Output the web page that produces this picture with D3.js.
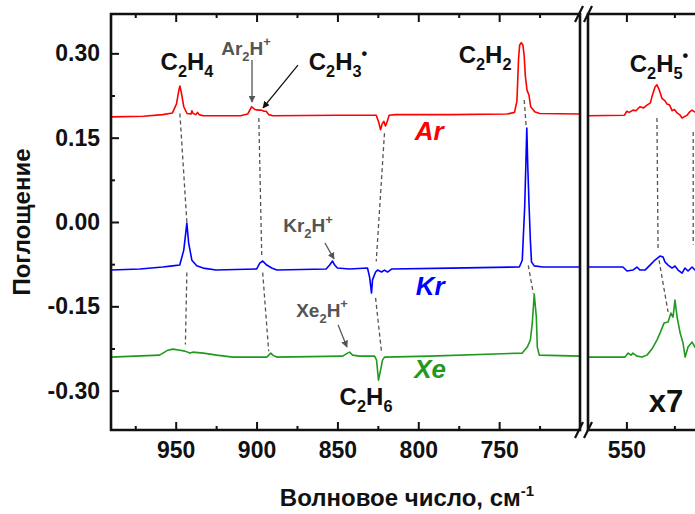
<!DOCTYPE html>
<html>
<head>
<meta charset="utf-8">
<script src="https://cdn.jsdelivr.net/npm/d3@7"></script>
<style>
body { margin: 0; background: #fff; }
svg { display: block; font-family: "Liberation Sans", Arial, sans-serif; }
</style>
</head>
<body>
<script>
// spectra: [wavenumber, absorbance]
var arLeft = [[990,0.187],[970,0.188],[958,0.191],[952,0.194],[949.5,0.21],[948,0.235],[947.4,0.242],[946.5,0.23],[945,0.205],[943,0.193],[940.5,0.192],[940,0.198],[939.2,0.193],[937.5,0.191],[936.5,0.195],[935.5,0.191],[933,0.189],[910,0.189],[905.5,0.192],[903,0.205],[901,0.2],[899,0.199],[897,0.199],[895.5,0.197],[894,0.197],[892.5,0.191],[890,0.189],[850,0.19],[826,0.19],[824.5,0.178],[823.3,0.164],[822.3,0.175],[821.3,0.179],[820.3,0.171],[819.3,0.178],[818,0.19],[814,0.191],[780,0.191],[745,0.192],[740.5,0.195],[739,0.215],[738,0.29],[737.3,0.315],[736.3,0.319],[735.3,0.315],[734.5,0.295],[733.8,0.26],[732.8,0.235],[731.5,0.225],[730.5,0.205],[728,0.196],[725,0.193],[700,0.192]];
var arRight = [[570,0.189],[551,0.19],[549.8,0.197],[548.5,0.195],[546.6,0.199],[545,0.198],[543,0.205],[541,0.203],[539.3,0.208],[537.5,0.212],[536.7,0.223],[535.1,0.24],[534.1,0.244],[533,0.236],[531.5,0.22],[530,0.216],[528.9,0.21],[527.5,0.208],[526.2,0.198],[525,0.2],[523.6,0.194],[522,0.19],[521,0.185],[520,0.187],[518.4,0.19],[517,0.196],[515.8,0.199],[514.5,0.196],[512,0.194]];
var krLeft = [[990,-0.0855],[972,-0.0837],[958,-0.08],[952,-0.078],[947.5,-0.0766],[945,-0.05],[943.1,-0.002],[942,-0.037],[940,-0.068],[937,-0.078],[933,-0.082],[925,-0.0855],[900,-0.0837],[898,-0.073],[896.2,-0.0694],[893.7,-0.0766],[890.6,-0.0819],[887.5,-0.0855],[857,-0.0837],[854.8,-0.0766],[853,-0.0694],[851.7,-0.0766],[850,-0.0819],[842.5,-0.0837],[831.4,-0.0819],[830.1,-0.098],[828.9,-0.1264],[828.3,-0.103],[826.4,-0.089],[825.2,-0.0855],[822.7,-0.089],[820.9,-0.0855],[819,-0.089],[816.5,-0.0837],[780,-0.082],[737.5,-0.08],[735.7,-0.068],[734.2,0.027],[733.5,0.1],[732.9,0.167],[732.3,0.1],[731.5,0.03],[730.7,-0.032],[730,-0.071],[728.3,-0.078],[723,-0.08],[700,-0.08]];
var krRight = [[570,-0.0801],[551.8,-0.0801],[549.7,-0.0872],[546.6,-0.0855],[544.5,-0.0801],[542.9,-0.0855],[540.3,-0.0855],[537.7,-0.0766],[535.1,-0.0677],[532.5,-0.0605],[530.9,-0.0623],[529.9,-0.0712],[528.3,-0.0766],[526.2,-0.0819],[524.7,-0.0783],[523.1,-0.0855],[521,-0.0908],[519.5,-0.0819],[517.9,-0.0872],[515.8,-0.0801],[514.3,-0.0855],[512,-0.083]];
var xeLeft = [[990,-0.2403],[960,-0.2368],[954.8,-0.228],[951.7,-0.2261],[947.4,-0.228],[944.3,-0.2297],[941.2,-0.2332],[939.4,-0.2315],[933,-0.2332],[924.6,-0.2368],[914.7,-0.2403],[893.7,-0.2403],[891.2,-0.2332],[890,-0.2368],[887.5,-0.2403],[846.8,-0.2386],[843.7,-0.2332],[842.5,-0.2315],[840.6,-0.2368],[836.3,-0.2386],[827,-0.2386],[825.8,-0.2457],[824.6,-0.2813],[823.3,-0.2635],[822.1,-0.2457],[820.9,-0.2403],[793,-0.2386],[735.7,-0.2332],[732.6,-0.2225],[730.7,-0.21],[729.5,-0.18],[728.3,-0.128],[727,-0.169],[726.4,-0.2225],[725.2,-0.2368],[700,-0.2386]];
var xeRight = [[570,-0.2403],[550.7,-0.2403],[549.1,-0.2332],[547.6,-0.2368],[546.6,-0.2332],[544.5,-0.2386],[541.9,-0.2403],[539.3,-0.2368],[536.7,-0.2261],[534.1,-0.21],[532.5,-0.1976],[530.4,-0.1798],[528.3,-0.178],[526.8,-0.162],[525.7,-0.1691],[524.7,-0.1389],[523.6,-0.169],[522,-0.1976],[520.5,-0.2154],[519.4,-0.2403],[517.9,-0.2225],[515.8,-0.2136],[514.3,-0.2225],[512,-0.23]];

// ticks
var xMajorLeft = [950, 900, 850, 800, 750];
var xMinorLeft = [975, 925, 875, 825, 775, 725];
var xMajorRight = [550];
var xMinorRight = [525];
var yMajor = [0.30, 0.15, 0.00, -0.15, -0.30];
var yMinor = [0.225, 0.075, -0.075, -0.225];

// dashed guides between peaks: [panel, [wn1, a1], [wn2, a2]]
var guides = [
    ['L', [947.4, 0.193], [943.1, 0.0]],
    ['L', [943.1, -0.09], [944.0, -0.218]],
    ['L', [898.6, 0.185], [896.8, -0.059]],
    ['L', [896.2, -0.09], [892.5, -0.23]],
    ['L', [820.9, 0.158], [826.0, -0.07]],
    ['L', [826.4, -0.135], [822.7, -0.232]],
    ['L', [734.5, 0.217], [733.2, 0.167]],
    ['L', [732.0, -0.077], [728.9, -0.127]],
    ['R', [534.1, 0.185], [533.5, -0.05]],
    ['R', [533.0, -0.068], [528.3, -0.16]],
    ['R', [515.2, 0.16], [515.2, -0.04]]
];

var width = 695, height = 514;
var plotTop = 14, plotBottom = 430;

var svg = d3.select('body').append('svg')
    .attr('width', width)
    .attr('height', height)
    .style('background', '#fff');

var y = d3.scaleLinear().domain([-0.37, 0.37]).range([plotBottom, plotTop]);
var xL = d3.scaleLinear().domain([990, 700]).range([111, 580]);
var xR = d3.scaleLinear().domain([570, 480]).range([588, 760.8]);

//spectra
var series = [
    [arLeft, xL, '#ff0000'], [arRight, xR, '#ff0000'],
    [krLeft, xL, '#0000ff'], [krRight, xR, '#0000ff'],
    [xeLeft, xL, '#1f9a1f'], [xeRight, xR, '#1f9a1f']
];
series.forEach(function (s) {
    var line = d3.line()
        .x(function (d) { return s[1](d[0]); })
        .y(function (d) { return y(d[1]); });
    svg.append('path')
        .datum(s[0])
        .attr('d', line)
        .attr('fill', 'none')
        .attr('stroke', s[2])
        .attr('stroke-width', 1.6)
        .attr('stroke-linejoin', 'round');
});

//dashed guides
guides.forEach(function (g) {
    var sx = g[0] == 'L' ? xL : xR;
    svg.append('line')
        .attr('x1', sx(g[1][0])).attr('y1', y(g[1][1]))
        .attr('x2', sx(g[2][0])).attr('y2', y(g[2][1]))
        .attr('stroke', '#555')
        .attr('stroke-width', 1.3)
        .attr('stroke-dasharray', '4,3');
});

//axes
function styleAxis(g) {
    g.select('.domain').remove();
    g.selectAll('.tick line').attr('stroke', '#111').attr('stroke-width', 2);
    g.selectAll('.tick text')
        .attr('fill', '#111')
        .attr('font-size', 23)
        .attr('font-weight', 'bold')
        .attr('font-family', '"Liberation Sans", Arial, sans-serif');
}

function xAxes(scale, majors, minors) {
    svg.append('g').attr('transform', 'translate(0,' + plotBottom + ')')
        .call(d3.axisBottom(scale).tickValues(majors).tickSize(-8).tickPadding(12).tickFormat(d3.format('d')))
        .call(styleAxis);
    svg.append('g').attr('transform', 'translate(0,' + plotBottom + ')')
        .call(d3.axisBottom(scale).tickValues(minors).tickSize(-4).tickFormat(''))
        .call(styleAxis);
    svg.append('g').attr('transform', 'translate(0,' + plotTop + ')')
        .call(d3.axisTop(scale).tickValues(majors).tickSize(-8).tickFormat(''))
        .call(styleAxis);
    svg.append('g').attr('transform', 'translate(0,' + plotTop + ')')
        .call(d3.axisTop(scale).tickValues(minors).tickSize(-4).tickFormat(''))
        .call(styleAxis);
}
xAxes(xL, xMajorLeft, xMinorLeft);
xAxes(xR, xMajorRight, xMinorRight);

svg.append('g').attr('transform', 'translate(111,0)')
    .call(d3.axisLeft(y).tickValues(yMajor).tickSize(-8).tickPadding(11)
        .tickFormat(function (d) { return d.toFixed(2); }))
    .call(styleAxis);
svg.append('g').attr('transform', 'translate(111,0)')
    .call(d3.axisLeft(y).tickValues(yMinor).tickSize(-4).tickFormat(''))
    .call(styleAxis);

//frames of the two panels
svg.append('path')
    .attr('d', 'M' + xL.range()[0] + ',' + plotTop + 'H' + xL.range()[1] + 'V' + plotBottom + 'H' + xL.range()[0] + 'Z')
    .attr('fill', 'none').attr('stroke', '#111').attr('stroke-width', 2.6);
svg.append('path')
    .attr('d', 'M' + xR.range()[1] + ',' + plotTop + 'H' + xR.range()[0] + 'V' + plotBottom + 'H' + xR.range()[1])
    .attr('fill', 'none').attr('stroke', '#111').attr('stroke-width', 2.6);

//break marks
[plotTop, plotBottom].forEach(function (yy) {
    [579, 588].forEach(function (xx) {
        svg.append('line')
            .attr('x1', xx - 4).attr('y1', yy + 8)
            .attr('x2', xx + 4).attr('y2', yy - 8)
            .attr('stroke', '#111').attr('stroke-width', 2.2);
    });
});

//labels with sub/superscripts
function chem(scale, wn, a, parts, size, color, weight, style) {
    var t = svg.append('text')
        .attr('x', scale(wn))
        .attr('y', y(a))
        .attr('text-anchor', 'middle')
        .attr('font-size', size)
        .attr('fill', color)
        .attr('font-weight', weight || 'normal')
        .attr('font-style', style || 'normal');
    var shift = 0;
    parts.forEach(function (p) {
        var target = p[1] == 'sub' ? 0.3 : (p[1] == 'sup' ? -0.45 : 0);
        t.append('tspan')
            .attr('dy', ((target - shift) * size) + 'px')
            .attr('font-size', p[1] ? size * 0.68 : size)
            .text(p[0]);
        shift = target;
    });
}

chem(xL, 943.0, 0.270, [['C'], ['2', 'sub'], ['H'], ['4', 'sub']], 24, '#111', 'bold');
chem(xL, 849.6, 0.270, [['C'], ['2', 'sub'], ['H'], ['3', 'sub'], ['\u2022', 'sup']], 24, '#111', 'bold');
chem(xL, 758.7, 0.283, [['C'], ['2', 'sub'], ['H'], ['2', 'sub']], 24, '#111', 'bold');
chem(xL, 832.3, -0.3255, [['C'], ['2', 'sub'], ['H'], ['6', 'sub']], 24, '#111', 'bold');
chem(xR, 533.0, 0.267, [['C'], ['2', 'sub'], ['H'], ['5', 'sub'], ['\u2022', 'sup']], 24, '#111', 'bold');
chem(xL, 906.5, 0.297, [['Ar'], ['2', 'sub'], ['H'], ['+', 'sup']], 19, '#555', 'bold');
chem(xL, 868.2, -0.018, [['Kr'], ['2', 'sub'], ['H'], ['+', 'sup']], 19, '#555', 'bold');
chem(xL, 859.5, -0.169, [['Xe'], ['2', 'sub'], ['H'], ['+', 'sup']], 19, '#555', 'bold');
chem(xL, 793.3, 0.146, [['Ar']], 26, '#ff0000', 'bold', 'italic');
chem(xL, 792.7, -0.130, [['Kr']], 26, '#0000ff', 'bold', 'italic');
chem(xL, 792.7, -0.2775, [['Xe']], 26, '#1f9a1f', 'bold', 'italic');
chem(xR, 529.4, -0.338, [['x7']], 31, '#111', 'bold');

//arrows
var defs = svg.append('defs');
['#555', '#111'].forEach(function (c, i) {
    defs.append('marker')
        .attr('id', 'arr' + i)
        .attr('viewBox', '0 0 10 10')
        .attr('refX', 9).attr('refY', 5)
        .attr('markerWidth', 7).attr('markerHeight', 7)
        .attr('markerUnits', 'userSpaceOnUse')
        .attr('orient', 'auto')
        .append('path').attr('d', 'M0,0L10,5L0,10Z').attr('fill', c);
});
var arrows = [
    [[902.8, 0.288], [902.8, 0.2135], 0],
    [[874.4, 0.279], [896.0, 0.203], 1],
    [[857.7, -0.0374], [852.1, -0.0658], 0],
    [[849.6, -0.183], [844.1, -0.2224], 0]
];
arrows.forEach(function (a) {
    svg.append('line')
        .attr('x1', xL(a[0][0])).attr('y1', y(a[0][1]))
        .attr('x2', xL(a[1][0])).attr('y2', y(a[1][1]))
        .attr('stroke', a[2] ? '#111' : '#555')
        .attr('stroke-width', 1.3)
        .attr('marker-end', 'url(#arr' + a[2] + ')');
});

//axis titles
svg.append('text')
    .attr('transform', 'translate(30,222) rotate(-90)')
    .attr('text-anchor', 'middle')
    .attr('font-size', 24)
    .attr('font-weight', 'bold')
    .attr('fill', '#111')
    .text('Поглощение');

var xt = svg.append('text')
    .attr('x', 407)
    .attr('y', 506)
    .attr('text-anchor', 'middle')
    .attr('font-size', 24)
    .attr('font-weight', 'bold')
    .attr('fill', '#111');
xt.append('tspan').text('Волновое число, см');
xt.append('tspan').attr('dy', '-10px').attr('font-size', 15).text('-1');
</script>
</body>
</html>
